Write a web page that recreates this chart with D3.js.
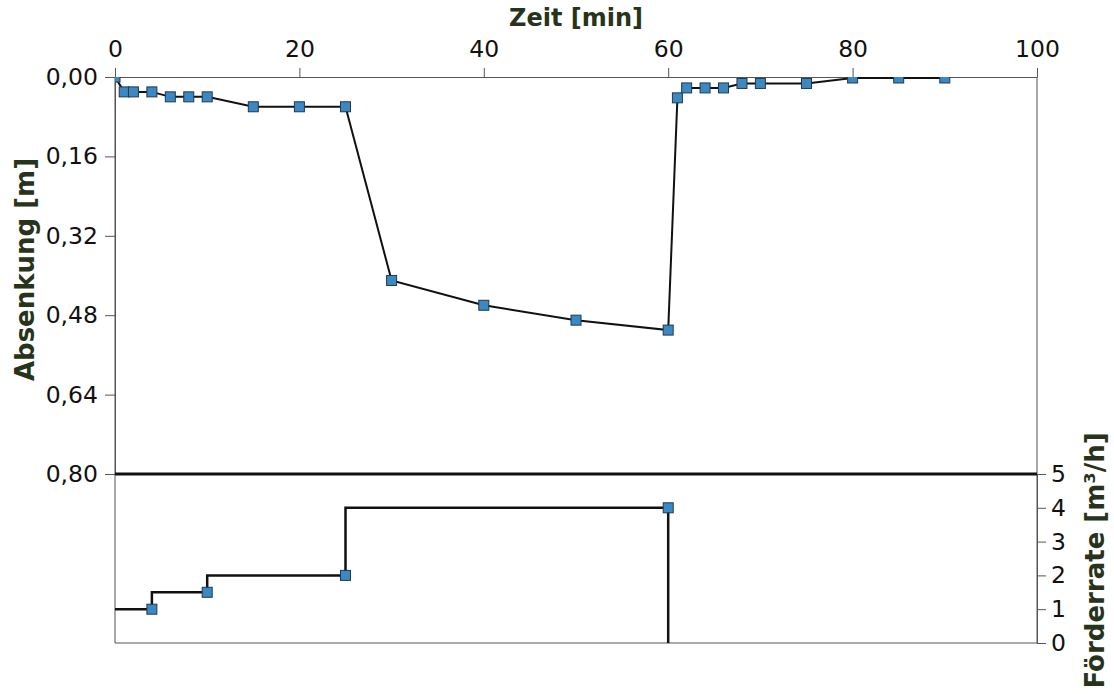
<!DOCTYPE html>
<html>
<head>
<meta charset="utf-8">
<script src="https://cdn.jsdelivr.net/npm/d3@7/dist/d3.min.js"></script>
<style>
  html, body { margin: 0; padding: 0; background: #fff; }
  svg { display: block; }
  .tick text { font-family: "DejaVu Sans", Verdana, sans-serif; font-size: 23.5px; fill: #111; }
  .axis-title { font-family: "DejaVu Sans", Verdana, sans-serif; font-size: 24px; font-weight: bold; fill: #27331a; }
  .axis-title.v { font-size: 26px; }
</style>
</head>
<body>
<svg id="chart" width="1114" height="694"></svg>
<script>
// Pumping test: drawdown over time (top) and pumping rate (bottom)
const timeMin    = [0, 1, 2, 4, 6, 8, 10, 15, 20, 25, 30, 40, 50, 60, 61, 62, 64, 66, 68, 70, 75, 80, 85, 90];
const drawdownM  = [0, 0.03, 0.03, 0.03, 0.04, 0.04, 0.04, 0.06, 0.06, 0.06, 0.41, 0.46, 0.49, 0.51,
                    0.042, 0.022, 0.022, 0.022, 0.013, 0.013, 0.013, 0.002, 0.002, 0.002];

const rateTime   = [4, 10, 25, 60];
const rateM3h    = [1.0, 1.5, 2.0, 4.0];
const pumpStart  = 0;   // min
const pumpStop   = 60;  // min

const timeTicks     = [0, 20, 40, 60, 80, 100];
const drawdownTicks = [0, 0.16, 0.32, 0.48, 0.64, 0.80];
const rateTicks     = [0, 1, 2, 3, 4, 5];

const de = d3.formatLocale({decimal: ",", thousands: ".", grouping: [3], currency: ["", " €"]});
const fmt2 = de.format(".2f");

const svg = d3.select("#chart");
const L = 115, R = 1037, T = 77, MID = 474, B = 643;

const x = d3.scaleLinear().domain([0, 100]).range([L, R]);
const yDraw = d3.scaleLinear().domain([0, 0.8]).range([T, MID]);
const yRate = d3.scaleLinear().domain([0, 5]).range([B, MID]);

svg.append("defs").call(d => {
  d.append("clipPath").attr("id", "clipTop")
    .append("rect").attr("x", L).attr("y", T).attr("width", R - L).attr("height", MID - T);
  d.append("clipPath").attr("id", "clipBottom")
    .append("rect").attr("x", L).attr("y", MID).attr("width", R - L).attr("height", B - MID);
});

// frame
const frame = svg.append("g").attr("stroke", "#555").attr("stroke-width", 1).attr("fill", "none");
frame.append("line").attr("x1", L).attr("x2", L).attr("y1", T).attr("y2", B);
frame.append("line").attr("x1", R).attr("x2", R).attr("y1", T).attr("y2", B);
frame.append("line").attr("x1", L).attr("x2", R).attr("y1", B).attr("y2", B);

// axes
function styleAxis(g) {
  g.selectAll(".domain").attr("stroke", "#555");
  g.selectAll(".tick line").attr("stroke", "#555");
}

svg.append("g")
  .attr("transform", `translate(0,${T})`)
  .call(d3.axisTop(x).tickValues(timeTicks).tickSize(9).tickSizeOuter(0).tickPadding(11).tickFormat(d3.format("d")))
  .call(styleAxis);

svg.append("g")
  .attr("transform", `translate(${L},0)`)
  .call(d3.axisLeft(yDraw).tickValues(drawdownTicks).tickSize(10).tickSizeOuter(0).tickPadding(7).tickFormat(fmt2))
  .call(styleAxis);

svg.append("g")
  .attr("transform", `translate(${R},0)`)
  .call(d3.axisRight(yRate).tickValues(rateTicks).tickSize(9).tickSizeOuter(0).tickPadding(5).tickFormat(d3.format("d")))
  .call(styleAxis);

svg.selectAll(".tick text").attr("font-family", null).attr("font-size", null);

// panel separator
svg.append("line")
  .attr("x1", L).attr("x2", R)
  .attr("y1", yDraw(0.8)).attr("y2", yDraw(0.8))
  .attr("stroke", "#111").attr("stroke-width", 3);

// drawdown series
const drawPts = timeMin.map((t, i) => ({t, s: drawdownM[i]}));
const topG = svg.append("g").attr("clip-path", "url(#clipTop)");
topG.append("path")
  .datum(drawPts)
  .attr("fill", "none").attr("stroke", "#111").attr("stroke-width", 2)
  .attr("d", d3.line().x(d => x(d.t)).y(d => yDraw(d.s)));
const MS = 10;
topG.selectAll("rect.m").data(drawPts).join("rect")
  .attr("class", "m")
  .attr("x", d => x(d.t) - MS / 2).attr("y", d => yDraw(d.s) - MS / 2)
  .attr("width", MS).attr("height", MS)
  .attr("fill", "#3b88c3").attr("stroke", "#23384d").attr("stroke-width", 1);

// pumping rate (step series)
const ratePts = rateTime.map((t, i) => ({t, q: rateM3h[i]}));
const stepPts = [{t: pumpStart, q: rateM3h[0]}, ...ratePts, {t: pumpStop, q: 0}];
const botG = svg.append("g").attr("clip-path", "url(#clipBottom)");
botG.append("path")
  .datum(stepPts)
  .attr("fill", "none").attr("stroke", "#111").attr("stroke-width", 2.5)
  .attr("d", d3.line().curve(d3.curveStepBefore).x(d => x(d.t)).y(d => yRate(d.q)));
botG.selectAll("rect.m").data(ratePts).join("rect")
  .attr("class", "m")
  .attr("x", d => x(d.t) - MS / 2).attr("y", d => yRate(d.q) - MS / 2)
  .attr("width", MS).attr("height", MS)
  .attr("fill", "#3b88c3").attr("stroke", "#23384d").attr("stroke-width", 1);

// axis titles
svg.append("text").attr("class", "axis-title")
  .attr("x", (L + R) / 2).attr("y", 26).attr("text-anchor", "middle")
  .text("Zeit [min]");

svg.append("text").attr("class", "axis-title v")
  .attr("transform", `translate(34,${(T + MID) / 2 - 6}) rotate(-90)`)
  .attr("text-anchor", "middle")
  .text("Absenkung [m]");

svg.append("text").attr("class", "axis-title v")
  .attr("transform", `translate(1104,${(MID + B) / 2 + 2}) rotate(-90)`)
  .attr("text-anchor", "middle")
  .text("Förderrate [m³/h]");
</script>
</body>
</html>
